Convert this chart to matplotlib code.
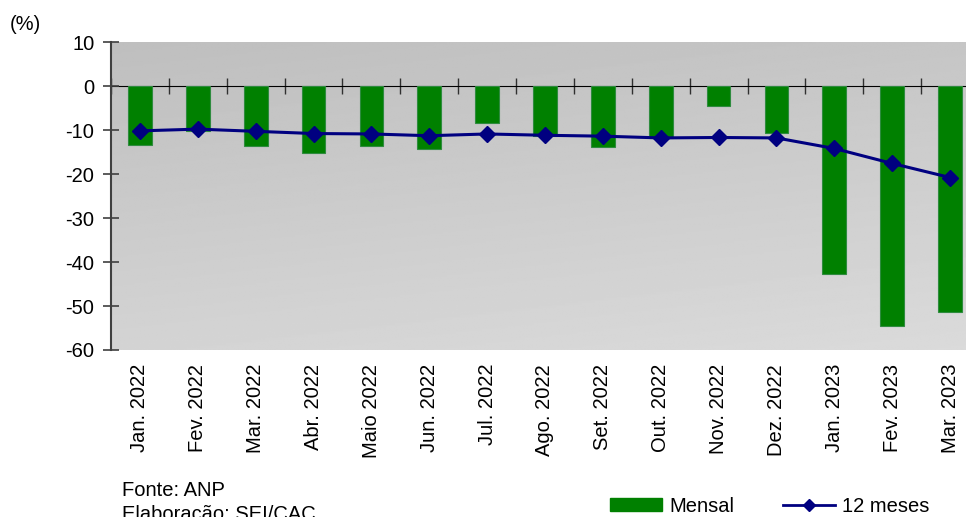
import numpy as np
import matplotlib
matplotlib.use("Agg")
import matplotlib.pyplot as plt
from matplotlib.patches import Patch
from matplotlib.lines import Line2D

plt.rcParams["font.family"] = ["Liberation Sans", "DejaVu Sans"]

meses = ["Jan. 2022", "Fev. 2022", "Mar. 2022", "Abr. 2022", "Maio 2022",
         "Jun. 2022", "Jul. 2022", "Ago. 2022", "Set. 2022", "Out. 2022",
         "Nov. 2022", "Dez. 2022", "Jan. 2023", "Fev. 2023", "Mar. 2023"]
mensal = [-13.4, -10.3, -13.6, -15.2, -13.6, -14.4, -8.3, -11.3, -13.9,
          -11.8, -4.5, -10.6, -42.8, -54.5, -51.4]
doze_meses = [-10.2, -9.8, -10.3, -10.8, -10.9, -11.3, -10.9, -11.2, -11.4,
              -11.8, -11.7, -11.8, -14.2, -17.6, -20.8]
yticks = [10, 0, -10, -20, -30, -40, -50, -60]

fs = 14.5

fig = plt.figure(figsize=(9.66, 5.17), dpi=100)
ax = fig.add_axes([111 / 966, 167 / 517, 868 / 966, 308 / 517])

x = np.arange(len(meses))

# fundo em degradê
gy, gx = np.mgrid[0:1:200j, 0:1:200j]
grad = 0.75 * gy + 0.25 * gx
ax.imshow(grad, cmap="gray", vmin=-6.8, vmax=2.3, extent=[0, 1, 0, 1],
          transform=ax.transAxes, aspect="auto", zorder=0, origin="upper")

ax.bar(x, mensal, width=0.41, color="#008000", edgecolor="#2e8b3e",
       linewidth=0.8, zorder=2, label="Mensal")
ax.plot(x, doze_meses, color="#000080", linewidth=2.2, marker="D",
        markersize=8, zorder=3, label="12 meses")

ax.set_xlim(-0.5, len(meses) - 0.5)
ax.set_ylim(-60, 10)
ax.set_yticks(yticks)
ax.set_yticklabels([str(v) for v in yticks], fontsize=fs)
ax.tick_params(axis="y", direction="inout", length=12, width=1.2,
               color="#404040", pad=6)
ax.set_xticks(x)
ax.set_xticklabels(meses, rotation=90, fontsize=fs)
ax.tick_params(axis="x", length=0, pad=10)

for side in ["top", "right", "bottom"]:
    ax.spines[side].set_visible(False)
ax.spines["left"].set_color("#404040")
ax.spines["left"].set_linewidth(1.5)
ax.spines["left"].set_zorder(4)

# eixo no zero com marcas entre categorias
zero = ax.secondary_xaxis(60 / 70)
zero.set_xticks(np.arange(len(meses) + 1) - 0.5)
zero.set_xticklabels([])
zero.tick_params(direction="inout", length=12, width=1.0, color="#303030")
zero.spines["bottom"].set_color("#404040")
zero.spines["bottom"].set_linewidth(1.5)

fig.text(10 / 966, 1 - 25 / 517, "(%)", fontsize=fs, va="center")
fig.text(122 / 966, 1 - 490 / 517, "Fonte: ANP", fontsize=fs, va="center")
fig.text(122 / 966, 1 - 514 / 517, "Elaboração: SEI/CAC", fontsize=fs,
         va="center")

handles = [Patch(facecolor="#008000", edgecolor="#008000"),
           Line2D([], [], color="#000080", linewidth=2, marker="D",
                  markersize=6)]
fig.legend(handles, ["Mensal", "12 meses"], ncol=2, frameon=False,
           fontsize=fs, loc="center left",
           bbox_to_anchor=(596 / 966, 1 - 506 / 517),
           handlelength=2.6, handleheight=0.6, handletextpad=0.35,
           columnspacing=2.4, borderaxespad=0.3)

fig.savefig("out.png", dpi=100)
